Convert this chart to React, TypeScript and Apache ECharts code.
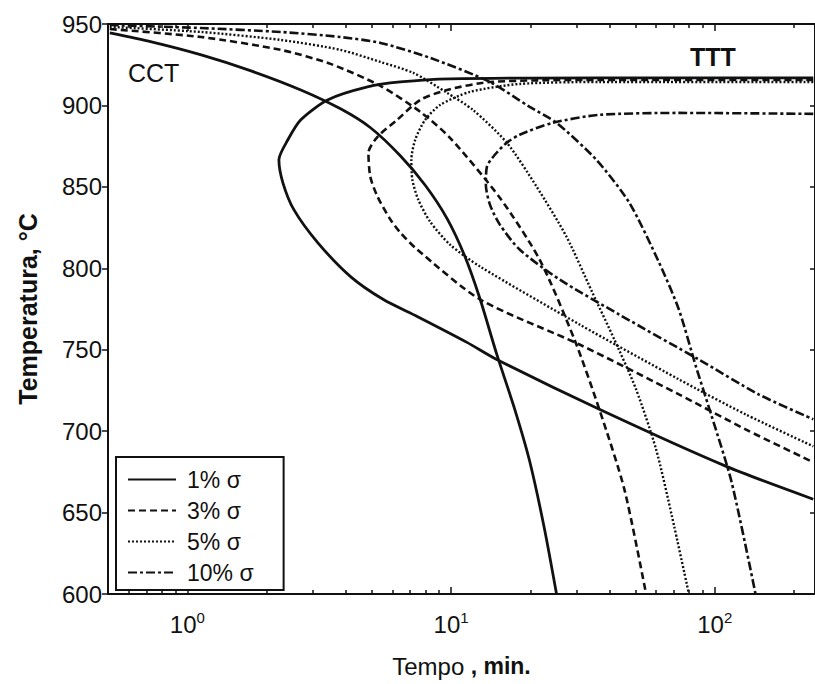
import React, { useEffect, useRef } from 'react';
import * as echarts from 'echarts';

// Each curve: [time (min), temperature (°C)]
const cct1: number[][] = [
  [0.508, 944.5], [0.731, 939.0], [1.129, 931.0], [1.744, 921.2], [2.693, 909.5],
  [3.81, 897.9], [4.95, 886.3], [6.42, 869.1], [7.98, 851.0], [9.66, 830.5],
  [11.29, 807.2], [12.9, 780.8], [14.91, 747.1], [17.44, 713.4], [19.87, 681.5],
  [22.62, 639.8], [25.12, 600],
];
const cct3: number[][] = [
  [0.508, 946.9], [1.129, 942.0], [2.263, 934.1], [3.49, 925.5], [5.396, 912.0],
  [7.64, 896.1], [9.91, 880.1], [15.31, 843.3], [21.67, 805.3], [29.37, 756.3],
  [36.5, 713.4], [45.4, 664.4], [54.9, 600],
];
const cct5: number[][] = [
  [0.508, 948.2], [1.129, 945.1], [2.263, 940.2], [3.81, 934.1], [5.396, 926.7],
  [7.19, 920.0], [9.66, 907.7], [12.1, 897.3], [16.27, 877.1], [21.11, 850.1],
  [27.4, 819.4], [34.35, 785.1], [41.6, 756.3], [50.3, 725.7], [59.9, 688.9],
  [68.8, 647.8], [79.8, 600],
];
const cct10: number[][] = [
  [0.508, 949.4], [1.129, 947.5], [2.263, 945.1], [3.81, 942.0], [5.396, 938.4],
  [8.33, 929.2], [14.04, 914.4], [19.87, 899.1], [25.12, 889.3], [35.56, 866.6],
  [47.4, 840.3], [61.5, 803.5], [73.1, 774.7], [84.8, 739.8], [97.4, 709.1],
  [115.9, 668.6], [142.8, 600],
];
const ttt1: number[][] = [
  [236.4, 916.9], [36.5, 916.9], [9.91, 916.3], [6.42, 914.4], [4.82, 911.4],
  [3.40, 903.4], [2.693, 891.2], [2.405, 878.9], [2.224, 866.6], [2.303, 852.5],
  [2.534, 836.0], [3.12, 815.8], [4.157, 794.9], [5.54, 780.8], [7.44, 770.4],
  [11.49, 754.5], [14.9, 744.0], [36.5, 713.4], [110, 678.5], [236.4, 658.2],
];
const ttt3: number[][] = [
  [236.4, 915.7], [36.5, 915.7], [14.04, 914.4], [9.66, 909.5], [7.64, 903.4],
  [6.25, 891.2], [5.26, 880.7], [4.86, 870.9], [4.94, 856.2], [5.26, 844.0],
  [5.89, 829.9], [6.42, 821.9], [7.44, 811.5], [12.9, 780.8], [30.7, 753.2],
  [73.1, 722.6], [130.9, 701.1], [236.4, 680.9],
];
const ttt5: number[][] = [
  [236.4, 914.4], [36.5, 914.4], [18.2, 913.2], [11.8, 908.3], [9.09, 900.3],
  [7.98, 891.2], [7.31, 878.9], [7.07, 866.6], [7.13, 854.4], [7.51, 842.1],
  [8.33, 828.6], [9.91, 814.5], [12.9, 801.0], [30.7, 765.5], [73.1, 731.8],
  [130.9, 710.3], [236.4, 690.7],
];
const ttt10: number[][] = [
  [236.4, 894.8], [73.1, 895.4], [36.5, 894.2], [24.3, 889.3], [18.2, 882.0],
  [16.27, 877.1], [14.66, 869.7], [13.67, 862.3], [13.55, 851.3], [14.04, 839.1],
  [15.31, 826.8], [18.2, 811.5], [25.8, 793.1], [43.4, 771.6], [87.0, 744.0],
  [146.6, 722.6], [236.4, 707.3],
];

const seriesNames = ['1% σ', '3% σ', '5% σ', '10% σ'];
const xMin = 0.5;
const xMax = 240;
const majorTicks = [1, 10, 100];
const minorTicks = [0.5, 0.6, 0.7, 0.8, 0.9, 2, 3, 4, 5, 6, 7, 8, 9, 20, 30, 40, 50, 60, 70, 80, 90, 200];
const yMin = 600;
const yMax = 950;
const yStep = 50;

const FONT = '"Liberation Sans", Arial, sans-serif';
const INK = '#111';

const styles: any[] = [
  { type: 'solid', width: 2.8 },
  { type: [7, 4], width: 2.6 },
  { type: [2, 2], width: 2.4 },
  { type: [9, 3, 3, 3], width: 2.6 },
];

export default function App() {
  const ref = useRef<HTMLDivElement>(null);
  useEffect(() => {
    if (!ref.current) return;
    const chart = echarts.init(ref.current, null, { renderer: 'svg' });
    const lg = (v: number) => Math.log10(v);
    const curves = [
      [cct1, ttt1],
      [cct3, ttt3],
      [cct5, ttt5],
      [cct10, ttt10],
    ];
    const series: any[] = [];
    curves.forEach((pair, i) => {
      pair.forEach((c) => {
        series.push({
          type: 'line',
          name: seriesNames[i],
          data: c.map(([t, T]) => [lg(t), T]),
          showSymbol: false,
          symbol: 'none',
          smooth: 0.25,
          clip: true,
          lineStyle: { color: INK, ...styles[i] },
          itemStyle: { color: INK },
          xAxisIndex: 0,
          yAxisIndex: 0,
        });
      });
    });
    const baseX = {
      type: 'value',
      min: lg(xMin),
      max: lg(xMax),
      splitLine: { show: false },
    };
    const option: any = {
      animation: false,
      backgroundColor: '#fff',
      grid: { left: 108, right: -2, top: 24, bottom: 90 },
      legend: {
        orient: 'vertical',
        left: 116,
        top: 457,
        data: seriesNames,
        itemWidth: 48,
        itemHeight: 12,
        itemGap: 8,
        borderColor: INK,
        borderWidth: 2,
        backgroundColor: '#fff',
        padding: [11, 30, 6, 11],
        itemStyle: { opacity: 0 },
        textStyle: { fontSize: 23, color: INK, fontFamily: FONT, lineHeight: 23, padding: [0, 0, 0, 6] },
      },
      xAxis: [
        {
          ...baseX,
          position: 'bottom',
          axisLine: { show: true, onZero: false, lineStyle: { color: INK, width: 2 } },
          axisTick: { show: true, inside: true, length: 7, customValues: majorTicks.map(lg), lineStyle: { color: INK, width: 1.5 } },
          axisLabel: {
            show: true,
            customValues: majorTicks.map(lg),
            margin: 16,
            formatter: (v: number) => `{b|10}{s|${Math.round(v)}}`,
            rich: {
              b: { fontSize: 24, fontFamily: FONT, color: INK },
              s: { fontSize: 15, fontFamily: FONT, color: INK, padding: [0, 0, 14, 0] },
            },
          },
          name: '{r|Tempo}{k| , min.}',
          nameLocation: 'middle',
          nameGap: 60,
          nameTextStyle: {
            rich: {
              r: { fontSize: 24, fontFamily: FONT, color: INK },
              k: { fontSize: 23, fontFamily: FONT, color: INK, fontWeight: 'bold' },
            },
          },
        },
        {
          ...baseX,
          position: 'bottom',
          axisLine: { show: false, onZero: false },
          axisTick: { show: true, inside: true, length: 4, customValues: minorTicks.map(lg), lineStyle: { color: INK, width: 1.5 } },
          axisLabel: { show: false },
        },
        {
          ...baseX,
          position: 'top',
          axisLine: { show: true, onZero: false, lineStyle: { color: INK, width: 2 } },
          axisTick: { show: true, inside: true, length: 7, customValues: majorTicks.map(lg), lineStyle: { color: INK, width: 1.5 } },
          axisLabel: { show: false },
        },
        {
          ...baseX,
          position: 'top',
          axisLine: { show: false, onZero: false },
          axisTick: { show: true, inside: true, length: 4, customValues: minorTicks.map(lg), lineStyle: { color: INK, width: 1.5 } },
          axisLabel: { show: false },
        },
      ],
      yAxis: [
        {
          type: 'value',
          position: 'left',
          min: yMin,
          max: yMax,
          interval: yStep,
          splitLine: { show: false },
          axisLine: { show: true, onZero: false, lineStyle: { color: INK, width: 2 } },
          axisTick: { show: true, inside: false, length: 6, lineStyle: { color: INK, width: 1.5 } },
          axisLabel: { fontSize: 24, fontFamily: FONT, color: INK, margin: 6 },
          name: 'Temperatura, °C',
          nameLocation: 'middle',
          nameGap: 68,
          nameTextStyle: { fontSize: 25, fontWeight: 'bold', fontFamily: FONT, color: INK },
        },
        {
          type: 'value',
          position: 'right',
          min: yMin,
          max: yMax,
          interval: yStep,
          splitLine: { show: false },
          axisLine: { show: true, onZero: false, lineStyle: { color: INK, width: 2 } },
          axisTick: { show: true, inside: true, length: 5, lineStyle: { color: INK, width: 1.5 } },
          axisLabel: { show: false },
        },
      ],
      graphic: [
        { type: 'text', left: 128, top: 60, style: { text: 'CCT', fontSize: 25, fontFamily: FONT, fill: INK } },
        { type: 'text', left: 690, top: 44, style: { text: 'TTT', fontSize: 25, fontWeight: 'bold', fontFamily: FONT, fill: INK } },
      ],
      series,
    };
    chart.setOption(option);
    return () => chart.dispose();
  }, []);
  return <div ref={ref} style={{ position: 'absolute', left: 0, top: 0, width: 815, height: 684 }} />;
}
